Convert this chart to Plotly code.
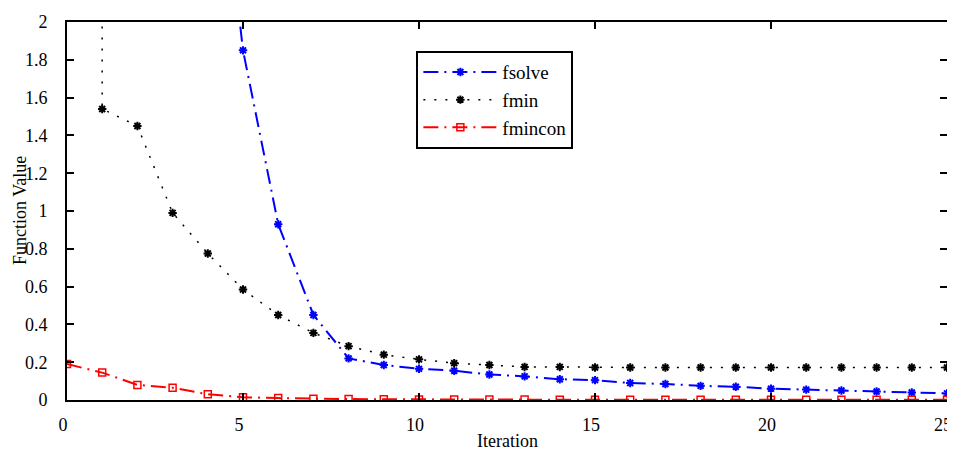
import plotly.graph_objects as go

iters_fsolve = [4, 5, 6, 7, 8, 9, 10, 11, 12, 13, 14, 15, 16, 17, 18, 19, 20, 21, 22, 23, 24, 25]
fsolve_vals = [3.5, 1.85, 0.93, 0.45, 0.22, 0.185, 0.165, 0.155, 0.135, 0.125, 0.11, 0.105,
               0.09, 0.085, 0.075, 0.07, 0.06, 0.055, 0.05, 0.045, 0.04, 0.035]

iters_fmin = list(range(0, 26))
fmin_vals = [150, 1.54, 1.45, 0.99, 0.775, 0.585, 0.45, 0.355, 0.285, 0.24, 0.215, 0.195,
             0.185, 0.175, 0.175, 0.172, 0.172, 0.172, 0.172, 0.172, 0.172, 0.172, 0.172,
             0.172, 0.172, 0.172]

iters_fmincon = list(range(0, 26))
fmincon_vals = [0.19, 0.145, 0.08, 0.065, 0.03, 0.015, 0.01, 0.006, 0.005, 0.004, 0.003, 0.003,
                0.002, 0.002, 0.001, 0.001, 0.001, 0.001, 0.001, 0.001, 0.001, 0.001, 0.001,
                0.001, 0.001, 0.001]

x_ticks = [0, 5, 10, 15, 20, 25]
y_ticks = [0, 0.2, 0.4, 0.6, 0.8, 1, 1.2, 1.4, 1.6, 1.8, 2]
y_tick_labels = ["0", "0.2", "0.4", "0.6", "0.8", "1", "1.2", "1.4", "1.6", "1.8", "2"]

FONT = "Liberation Serif, Times New Roman, serif"

fig = go.Figure()
fig.add_trace(go.Scatter(
    x=iters_fsolve, y=fsolve_vals, name="fsolve", mode="lines+markers",
    line=dict(color="#0000ff", width=2, dash="15px,6px,2px,6px"),
    marker=dict(symbol="asterisk-open", size=7, color="#0000ff", line=dict(color="#0000ff", width=2)),
))
fig.add_trace(go.Scatter(
    x=iters_fmin, y=fmin_vals, name="fmin", mode="lines+markers",
    line=dict(color="#000000", width=1.5, dash="2px,9px"),
    marker=dict(symbol="asterisk-open", size=7, color="#000000", line=dict(color="#000000", width=2)),
))
fig.add_trace(go.Scatter(
    x=iters_fmincon, y=fmincon_vals, name="fmincon", mode="lines+markers",
    line=dict(color="#ff0000", width=2, dash="15px,6px,2px,6px"),
    marker=dict(symbol="square-open", size=7, color="#ff0000", line=dict(color="#ff0000", width=1.5)),
))

axis_common = dict(
    showline=True, linecolor="black", linewidth=2, mirror="ticks",
    ticks="inside", ticklen=7, tickwidth=1.5, tickcolor="black",
    showgrid=False, zeroline=False, automargin=False, ticklabeloverflow="allow",
    tickfont=dict(family=FONT, size=18, color="black"),
)

fig.update_xaxes(range=[0, 25], tickvals=x_ticks, ticklabelstandoff=7, ticklabelshift=-4, **axis_common)
fig.update_yaxes(range=[0, 2], tickvals=y_ticks, ticktext=y_tick_labels, ticklabelstandoff=14, **axis_common)

# axis titles as annotations (page is offset by the 8px body margin)
fig.add_annotation(text="Iteration", xref="paper", yref="paper", x=0.5, y=0,
                   xanchor="center", yanchor="middle", yshift=-41, showarrow=False,
                   font=dict(family=FONT, size=18, color="black"))
fig.add_annotation(text="Function Value", xref="paper", yref="paper", x=0, y=0.5,
                   xanchor="center", yanchor="middle", xshift=-47, textangle=-90, showarrow=False,
                   font=dict(family=FONT, size=18, color="black"))

fig.update_layout(
    width=955, height=442,
    margin=dict(l=59, r=16, t=14, b=50),
    paper_bgcolor="white", plot_bgcolor="white",
    font=dict(family=FONT, color="black"),
    legend=dict(
        x=0.397, y=0.923, xanchor="left", yanchor="top",
        bgcolor="white", bordercolor="black", borderwidth=2,
        font=dict(family=FONT, size=19, color="black"),
        itemwidth=74, tracegroupgap=0,
    ),
    showlegend=True,
)

fig.write_html("out.html")
